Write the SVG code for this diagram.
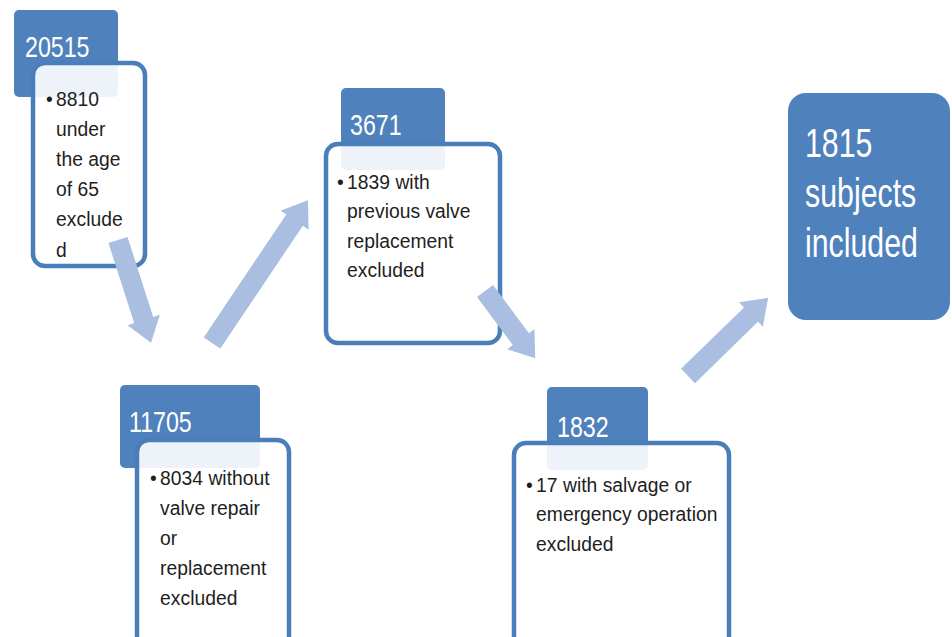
<svg xmlns="http://www.w3.org/2000/svg" width="952" height="637" viewBox="0 0 952 637">
<style>
.hdr{fill:#4f81bd}
.box{fill:#ffffff;fill-opacity:0.9;stroke:#4a7ebb;stroke-width:4.5}
.big{fill:#4f81bd}
.ht{font-family:"Liberation Sans",Arial,sans-serif;font-size:29px;fill:#ffffff}
.bt{font-family:"Liberation Sans",Arial,sans-serif;font-size:21px;fill:#1e1e1e}
.gt{font-family:"Liberation Sans",Arial,sans-serif;font-size:41px;fill:#ffffff}
.arr{fill:#a9bee0}
</style>
<rect width="952" height="637" fill="#ffffff"/>
<g id="node-20515">
<rect class="hdr" x="14" y="10" width="104" height="87" rx="5"/>
<rect class="box" x="33" y="63" width="112" height="203" rx="12"/>
<text class="ht" transform="translate(25,57) scale(0.8,1)">20515</text>
<text class="bt" transform="translate(46,106) scale(0.92,1)"><tspan x="0" y="0">•</tspan><tspan x="11" y="0">8810</tspan><tspan x="11" y="30">under</tspan><tspan x="11" y="60">the age</tspan><tspan x="11" y="90">of 65</tspan><tspan x="11" y="120">exclude</tspan><tspan x="11" y="151">d</tspan></text>
</g>
<g id="node-11705">
<rect class="hdr" x="120" y="385" width="140" height="83" rx="5"/>
<rect class="box" x="137" y="440" width="152" height="210" rx="12"/>
<text class="ht" transform="translate(129,432) scale(0.8,1)">11705</text>
<text class="bt" transform="translate(150,485) scale(0.92,1)"><tspan x="0" y="0">•</tspan><tspan x="11" y="0">8034 without</tspan><tspan x="11" y="30">valve repair</tspan><tspan x="11" y="60">or</tspan><tspan x="11" y="90">replacement</tspan><tspan x="11" y="120">excluded</tspan></text>
</g>
<g id="node-3671">
<rect class="hdr" x="341" y="88" width="104" height="82" rx="5"/>
<rect class="box" x="326" y="144" width="174" height="199" rx="12"/>
<text class="ht" transform="translate(350,135) scale(0.8,1)">3671</text>
<text class="bt" transform="translate(337,189) scale(0.92,1)"><tspan x="0" y="0">•</tspan><tspan x="11" y="0">1839 with</tspan><tspan x="11" y="29.5">previous valve</tspan><tspan x="11" y="59">replacement</tspan><tspan x="11" y="88.5">excluded</tspan></text>
</g>
<g id="node-1832">
<rect class="hdr" x="547" y="387" width="101" height="83" rx="5"/>
<rect class="box" x="514" y="443" width="215" height="210" rx="12"/>
<text class="ht" transform="translate(557,437) scale(0.8,1)">1832</text>
<text class="bt" transform="translate(526,492) scale(0.92,1)"><tspan x="0" y="0">•</tspan><tspan x="11" y="0">17 with salvage or</tspan><tspan x="11" y="29.5">emergency operation</tspan><tspan x="11" y="59">excluded</tspan></text>
</g>
<g id="node-1815">
<rect class="big" x="788" y="93" width="162" height="227" rx="18"/>
<text class="gt" transform="translate(805,157) scale(0.74,1)"><tspan x="0" y="0">1815</tspan><tspan x="0" y="50">subjects</tspan><tspan x="0" y="100">included</tspan></text>
</g>
<g id="connectors">
<polygon class="arr" transform="translate(118,240) rotate(72.2)" points="0,-10 84,-10 84,-17 108,0 84,17 84,10 0,10"/>
<polygon class="arr" transform="translate(212,343) rotate(-56.1)" points="0,-10 148,-10 148,-17 172,0 148,17 148,10 0,10"/>
<polygon class="arr" transform="translate(485,291) rotate(53.3)" points="0,-10 60,-10 60,-17 84,0 60,17 60,10 0,10"/>
<polygon class="arr" transform="translate(688,376) rotate(-44.3)" points="0,-10 88,-10 88,-17 112,0 88,17 88,10 0,10"/>
</g>
</svg>
